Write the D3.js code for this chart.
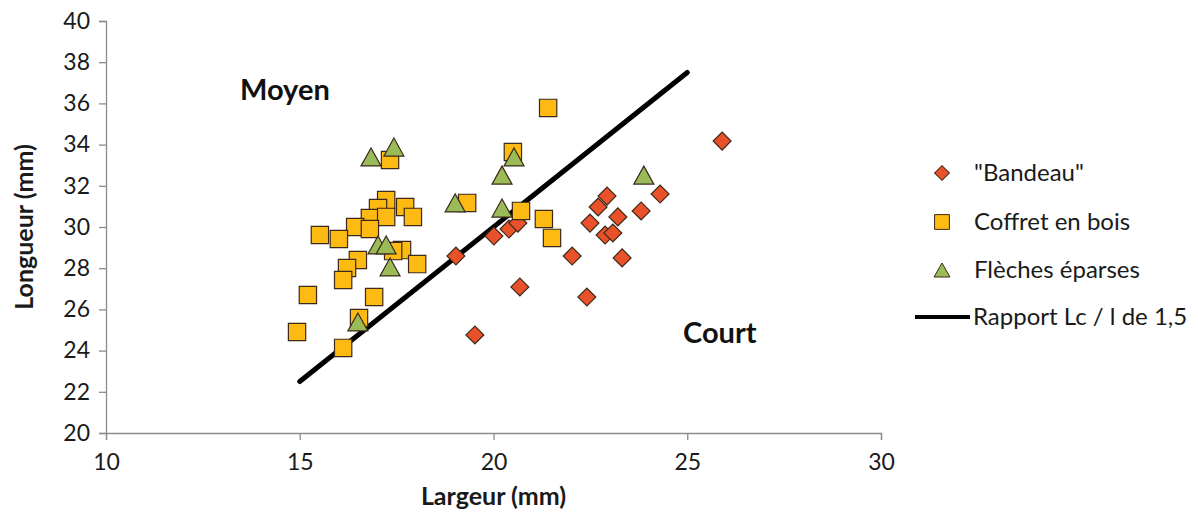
<!DOCTYPE html>
<html><head><meta charset="utf-8">
<script src="https://cdn.jsdelivr.net/npm/d3@7"></script>
<style>body{margin:0;background:#fff}svg{display:block}text{font-family:Lato,"Open Sans",sans-serif}</style>
</head><body><svg id="c" width="1198" height="512"></svg>
<script>
const xTicks = [10, 15, 20, 25, 30];
const yTicks = [20, 22, 24, 26, 28, 30, 32, 34, 36, 38, 40];
const bandeauX = [19.03, 20.01, 20.40, 20.63, 20.68, 19.52, 22.03, 22.41, 22.49, 22.70, 22.93, 23.21, 22.88, 23.08, 23.32, 23.81, 24.30, 25.90];
const bandeauY = [28.59, 29.56, 29.90, 30.19, 27.09, 24.76, 28.59, 26.60, 30.19, 30.97, 31.50, 30.49, 29.61, 29.71, 28.50, 30.78, 31.60, 34.17];
const coffretX = [17.33, 17.23, 17.72, 17.92, 17.02, 16.81, 17.23, 16.43, 15.52, 16.01, 16.81, 17.64, 17.41, 18.03, 16.50, 16.22, 16.12, 15.21, 16.92, 16.53, 14.93, 16.12, 21.41, 20.50, 19.32, 20.71, 21.30, 21.51];
const coffretY = [33.25, 31.31, 30.97, 30.49, 30.92, 30.44, 30.49, 30.00, 29.61, 29.42, 29.90, 28.88, 28.83, 28.20, 28.40, 28.01, 27.43, 26.70, 26.60, 25.58, 24.90, 24.13, 35.78, 33.64, 31.17, 30.78, 30.39, 29.47];
const flechesX = [16.84, 17.43, 17.02, 17.23, 17.33, 16.50, 19.01, 20.22, 20.53, 20.22, 23.88];
const flechesY = [33.40, 33.88, 29.13, 29.13, 28.06, 25.39, 31.17, 32.52, 33.40, 30.92, 32.52];
const rapportX = [15, 25];
const rapportY = [22.5, 37.5];
const legendLabels = ['"Bandeau"', 'Coffret en bois', 'Flèches éparses', 'Rapport Lc / l de 1,5'];

const svg = d3.select('#c');
const x = d3.scaleLinear().domain([10, 30]).range([106, 881]);
const y = d3.scaleLinear().domain([20, 40]).range([433, 21]);
const axisColor = '#8c8c8c';

const gx = svg.append('g').attr('transform', `translate(0,${y(20)})`)
  .call(d3.axisBottom(x).tickValues(xTicks).tickSize(7).tickPadding(14).tickFormat(d3.format('d')));
const gy = svg.append('g').attr('transform', `translate(${x(10)},0)`)
  .call(d3.axisLeft(y).tickValues(yTicks).tickSize(7).tickPadding(9).tickFormat(d3.format('d')));
[gx, gy].forEach(g => {
  g.select('.domain').attr('stroke', axisColor).attr('stroke-width', 1.3);
  g.selectAll('.tick line').attr('stroke', axisColor).attr('stroke-width', 1.3);
  g.selectAll('.tick text').attr('fill', '#1a1a1a').style('font-size', '23px').style('font-family', 'Lato, sans-serif');
});

svg.append('text').attr('x', x(20)).attr('y', 505).attr('text-anchor', 'middle')
  .style('font-size', '25px').style('font-weight', 'bold').attr('fill', '#1a1a1a').text('Largeur (mm)');
svg.append('text').attr('transform', `translate(33,${y(30)}) rotate(-90)`).attr('text-anchor', 'middle')
  .style('font-size', '25px').style('font-weight', 'bold').attr('fill', '#1a1a1a').text('Longueur (mm)');

svg.append('line').attr('x1', x(rapportX[0])).attr('y1', y(rapportY[0])).attr('x2', x(rapportX[1])).attr('y2', y(rapportY[1]))
  .attr('stroke', '#000').attr('stroke-width', 5).attr('stroke-linecap', 'round');

svg.append('text').attr('x', 240).attr('y', 100).style('font-size', '29px').style('font-weight', 'bold').attr('fill', '#111').text('Moyen');
svg.append('text').attr('x', 683).attr('y', 343).style('font-size', '29px').style('font-weight', 'bold').attr('fill', '#111').text('Court');

const stroke = '#3b2a1a';
const redFill = '#E8512A', goldFill = '#FDBA12', greenFill = '#9BBB59';
const diamond = d3.symbol().type(d3.symbolSquare).size(160);
const square = d3.symbol().type(d3.symbolSquare).size(300);
function tri(cx, cy, w, h) { return `M${cx},${cy - h/2}L${cx + w/2},${cy + h/2}L${cx - w/2},${cy + h/2}Z`; }

svg.append('g').selectAll('path').data(d3.range(bandeauX.length)).join('path')
  .attr('d', diamond).attr('transform', i => `translate(${x(bandeauX[i])},${y(bandeauY[i])}) rotate(45)`)
  .attr('fill', redFill).attr('stroke', stroke).attr('stroke-width', 1.2);
svg.append('g').selectAll('path').data(d3.range(coffretX.length)).join('path')
  .attr('d', square).attr('transform', i => `translate(${x(coffretX[i])},${y(coffretY[i])})`)
  .attr('fill', goldFill).attr('stroke', stroke).attr('stroke-width', 1.2);
svg.append('g').selectAll('path').data(d3.range(flechesX.length)).join('path')
  .attr('d', i => tri(x(flechesX[i]), y(flechesY[i]), 20, 18))
  .attr('fill', greenFill).attr('stroke', stroke).attr('stroke-width', 1.2);

// legend
const lg = svg.append('g');
const ly = [173, 222, 270, 317];
lg.append('path').attr('d', d3.symbol().type(d3.symbolSquare).size(110)).attr('transform', `translate(942,${ly[0]}) rotate(45)`)
  .attr('fill', redFill).attr('stroke', stroke).attr('stroke-width', 1);
lg.append('path').attr('d', d3.symbol().type(d3.symbolSquare).size(220)).attr('transform', `translate(942,${ly[1]})`)
  .attr('fill', goldFill).attr('stroke', stroke).attr('stroke-width', 1);
lg.append('path').attr('d', tri(942, ly[2], 16, 14)).attr('fill', greenFill).attr('stroke', stroke).attr('stroke-width', 1);
lg.append('line').attr('x1', 915).attr('x2', 970).attr('y1', ly[3]).attr('y2', ly[3]).attr('stroke', '#000').attr('stroke-width', 4);
lg.selectAll('text.l').data(legendLabels).join('text').attr('class', 'l')
  .attr('x', (d, i) => i === 3 ? 973 : 974).attr('y', (d, i) => ly[i]).attr('dy', '0.35em')
  .style('font-size', '24px').attr('fill', '#1a1a1a').text(d => d);
</script></body></html>
